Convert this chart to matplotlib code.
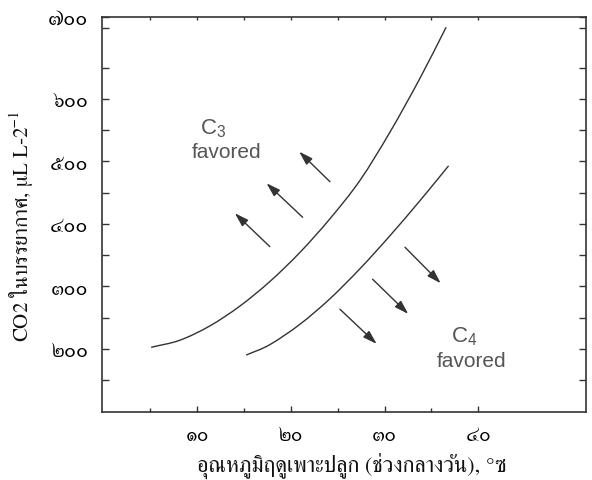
import matplotlib
matplotlib.use("Agg")
import matplotlib.pyplot as plt
import numpy as np
from matplotlib.path import Path
from matplotlib.patches import PathPatch
from matplotlib.ticker import FixedLocator, NullFormatter

plt.rcParams["font.family"] = ["FreeSerif", "DejaVu Sans"]
plt.rcParams["mathtext.fontset"] = "custom"
plt.rcParams["mathtext.rm"] = "FreeSerif"
plt.rcParams["mathtext.sf"] = "Liberation Sans"

# Boundary curves (temperature in deg C, CO2 concentration)
c3_temp = [5.14, 8.16, 11.36, 14.56, 17.76, 20.97, 24.17, 27.37, 30.57, 33.78, 36.55]
c3_co2 = [202.7, 213.9, 236.8, 268.5, 307.8, 354.4, 408.2, 469.5, 546.7, 633.1, 714.2]
c4_temp = [15.28, 17.76, 20.97, 24.17, 27.37, 30.57, 33.78, 36.80]
c4_co2 = [190.4, 206.8, 239.4, 280.2, 328.2, 381.0, 437.2, 492.4]

# Direction arrows: (tail_x, tail_y, head_x, head_y)
c3_arrows = [(17.76, 363.7, 14.03, 417.1),
             (21.26, 410.7, 17.41, 465.1),
             (24.17, 467.7, 20.89, 515.7)]
c4_arrows = [(25.24, 263.5, 29.16, 208.0),
             (28.73, 311.5, 32.53, 256.0),
             (32.18, 362.7, 35.99, 305.1)]

x_ticks = [10, 20, 30, 40]
x_labels = ["๑๐", "๒๐", "๓๐", "๔๐"]
x_minor = [5, 15, 25, 35]
y_ticks = [200, 300, 400, 500, 600, 732]
y_labels = ["๒๐๐", "๓๐๐", "๔๐๐", "๕๐๐", "๖๐๐", "๗๐๐"]
y_minor = [150, 250, 350, 450, 550, 650, 713]

x_title = "อุณหภูมิฤดูเพาะปลูก (ช่วงกลางวัน), °ซ"
y_title = "CO2 ในบรรยากาศ, μL L-2$^{-1}$"

ink = "#333333"


def smooth_path(xs, ys):
    """Catmull-Rom curve through the points, as cubic Bezier segments."""
    p = np.column_stack([xs, ys]).astype(float)
    ext = np.vstack([2 * p[0] - p[1], p, 2 * p[-1] - p[-2]])
    verts = [p[0]]
    codes = [Path.MOVETO]
    for i in range(1, len(ext) - 2):
        p0, p1, p2, p3 = ext[i - 1], ext[i], ext[i + 1], ext[i + 2]
        verts += [p1 + (p2 - p0) / 6, p2 - (p3 - p1) / 6, p2]
        codes += [Path.CURVE4] * 3
    return Path(verts, codes)


fig = plt.figure(figsize=(5.92, 4.8), dpi=100)
ax = fig.add_axes([102 / 592, 1 - 412 / 480, 484 / 592, 395.5 / 480])
ax.set_xlim(-0.15, 51.5)
ax.set_ylim(99, 732)

for xs, ys in [(c3_temp, c3_co2), (c4_temp, c4_co2)]:
    ax.add_patch(PathPatch(smooth_path(xs, ys), fill=False, edgecolor=ink,
                           lw=1.0, capstyle="round"))

for tx, ty, hx, hy in c3_arrows + c4_arrows:
    ax.annotate("", xy=(hx, hy), xytext=(tx, ty),
                arrowprops=dict(arrowstyle="-|>,head_length=0.7,head_width=0.22",
                                color=ink, lw=1.0, shrinkA=0, shrinkB=0,
                                mutation_scale=12))

label_kw = dict(color="#555555", ha="center", va="center", family="Liberation Sans")
ax.text(11.7, 553, r"$\mathsf{C_3}$", fontsize=16, **label_kw)
ax.text(13.19, 513.6, "favored", fontsize=15, **label_kw)
ax.text(38.5, 220, r"$\mathsf{C_4}$", fontsize=16, **label_kw)
ax.text(39.33, 179.2, "favored", fontsize=15, **label_kw)

for s in ax.spines.values():
    s.set_color(ink)
    s.set_linewidth(1.2)

ax.xaxis.set_major_locator(FixedLocator(x_ticks))
ax.xaxis.set_minor_locator(FixedLocator(x_minor))
ax.set_xticklabels(x_labels)
ax.yaxis.set_major_locator(FixedLocator(y_ticks))
ax.yaxis.set_minor_locator(FixedLocator(y_minor))
ax.set_yticklabels(y_labels)

ax.tick_params(axis="x", which="major", direction="in", length=4.5, width=1.0,
               color=ink, labelsize=16, pad=10, bottom=True, top=False)
ax.tick_params(axis="x", which="minor", direction="in", length=3, width=1.0,
               color=ink, bottom=True, top=False)
ax.tick_params(axis="y", which="both", direction="in", length=5, width=1.0,
               color=ink, labelsize=16.5, pad=10, left=True, right=True)

# short inward ticks along the top edge
top = ax.twiny()
top.set_xlim(ax.get_xlim())
top.xaxis.set_major_locator(FixedLocator(sorted(x_ticks + x_minor)))
top.xaxis.set_major_formatter(NullFormatter())
top.tick_params(axis="x", direction="in", length=2.5, width=1.0, color=ink,
                top=True, bottom=False, labeltop=False)
for s in top.spines.values():
    s.set_visible(False)

ax.set_xlabel(x_title, fontsize=16, color="#111111", va="top")
ax.xaxis.set_label_coords(0.5165, -0.104)
ax.set_ylabel(y_title, fontsize=15, color="#111111")
ax.yaxis.set_label_coords(-0.138, 0.47)

fig.savefig("out.png", dpi=100)
